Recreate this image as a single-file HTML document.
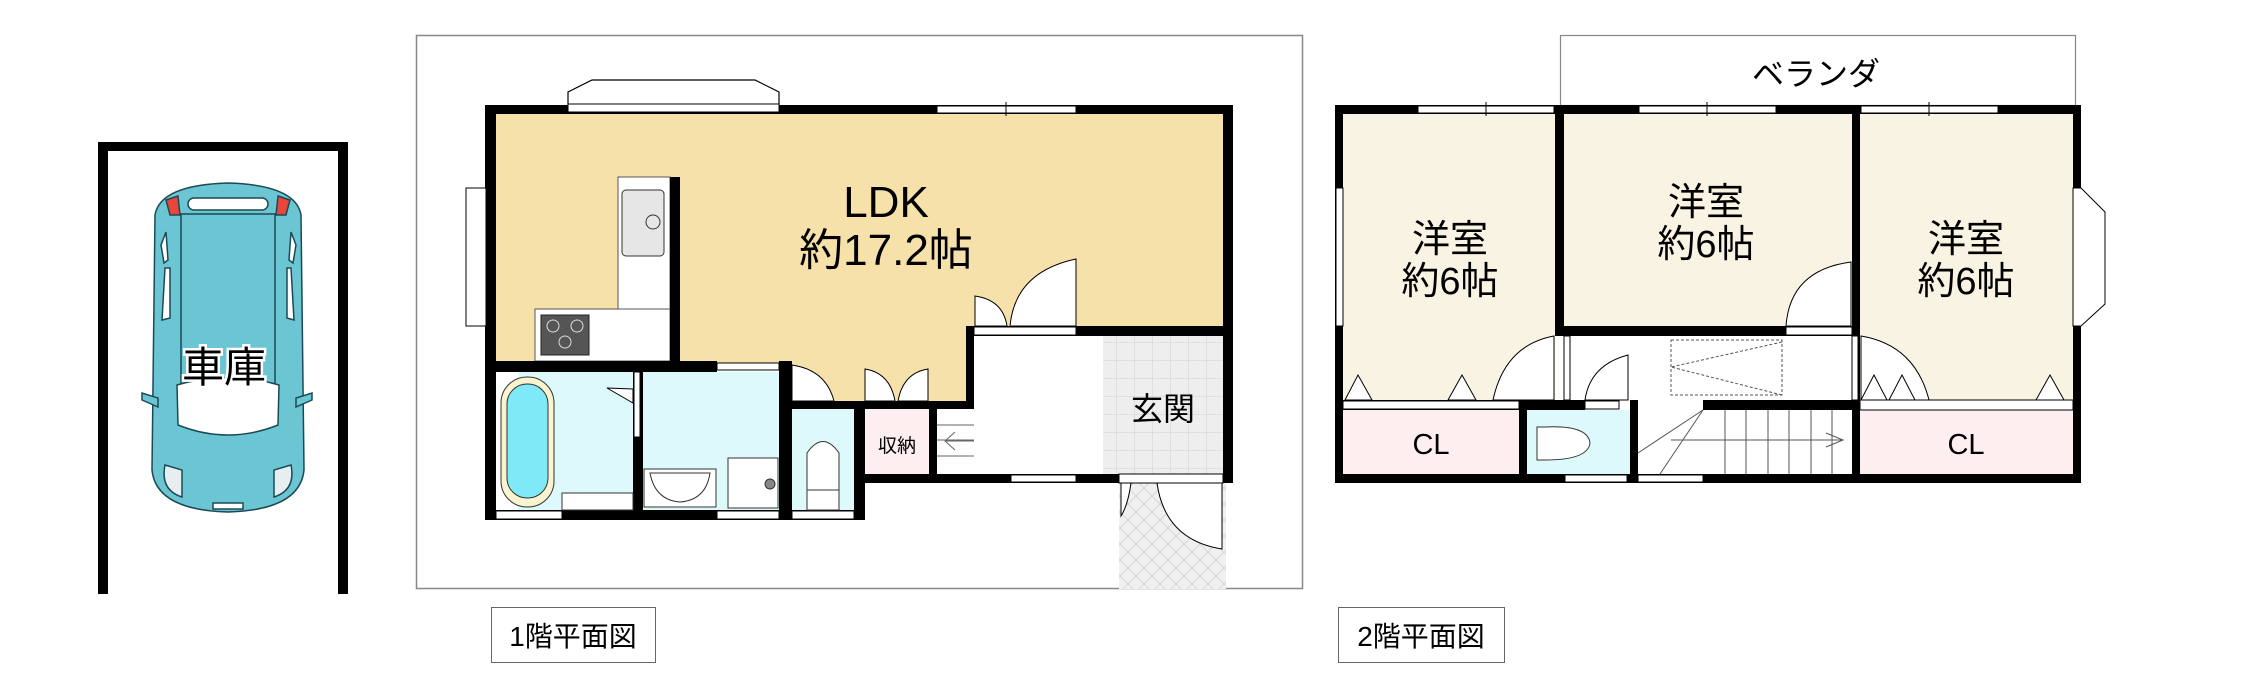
<!DOCTYPE html>
<html><head><meta charset="utf-8"><style>
html,body{margin:0;padding:0;background:#fff;}
svg{display:block;}
text{font-family:"Liberation Sans","Noto Sans CJK JP",sans-serif;fill:#000;}
</style></head><body>
<svg width="2258" height="695" viewBox="0 0 2258 695" xmlns="http://www.w3.org/2000/svg">
<defs>
<pattern id="tile" width="16" height="16" patternUnits="userSpaceOnUse"><rect width="16" height="16" fill="#f0f0f0"/><path d="M0 0L16 16M16 0L0 16" stroke="#d6d6d6" stroke-width="1"/></pattern>
<pattern id="grid" width="18" height="18" patternUnits="userSpaceOnUse"><rect width="18" height="18" fill="#eeeeee"/><path d="M0 0H18M0 0V18" stroke="#d0d0d0" stroke-width="1"/></pattern>
</defs>

<!-- Garage -->
<rect x="98" y="142" width="250" height="9" fill="#000"/>
<rect x="98" y="142" width="10" height="452" fill="#000"/>
<rect x="338" y="142" width="10" height="452" fill="#000"/>
<!-- car -->
<g stroke="#1a4a55" stroke-width="1.5">
<path d="M155 215 Q160 185 228 183 Q296 185 301 215 L304 470 Q300 510 228 512 Q156 510 152 470 Z" fill="#6cc5d3"/>
<rect x="181" y="214" width="94" height="180" fill="#6cc5d3"/>
<path d="M177 385 Q228 370 279 385 L278 425 Q228 445 178 425 Z" fill="#fff"/>
<rect x="188" y="198" width="80" height="12" rx="6" fill="#fff"/>
<path d="M166 200 L178 196 L180 215 L170 215 Z" fill="#e8463a"/>
<path d="M290 200 L278 196 L276 215 L286 215 Z" fill="#e8463a"/>
<path d="M166 232 L161 245 L164 263 L168 260 Z" fill="#fff"/>
<path d="M165 268 L162 320 L170 318 L170 268 Z" fill="#fff"/>
<path d="M291 232 L296 245 L293 263 L289 260 Z" fill="#fff"/>
<path d="M291 268 L294 320 L287 318 L287 268 Z" fill="#fff"/>
<path d="M165 465 Q160 490 182 497 L182 470 Z" fill="#e6eef0"/>
<path d="M291 465 Q296 490 274 497 L274 470 Z" fill="#e6eef0"/>
<path d="M142 400 L158 407 L158 398 L142 393 Z" fill="#6cc5d3"/>
<path d="M312 400 L296 407 L296 398 L312 393 Z" fill="#6cc5d3"/>
<rect x="213" y="503" width="30" height="6" fill="#fff"/>
</g>
<text x="224" y="382" font-size="42" text-anchor="middle" stroke="#fff" stroke-width="5" paint-order="stroke">車庫</text>

<!-- 1F site outline -->
<rect x="416.5" y="35.5" width="886" height="553" fill="none" stroke="#888" stroke-width="1.5"/>

<!-- LDK fill -->
<rect x="496" y="114" width="727" height="247" fill="#f6e1ab"/>
<rect x="680" y="330" width="286" height="40" fill="#f6e1ab"/>
<rect x="792" y="361" width="174" height="40" fill="#f6e1ab"/>
<!-- kitchen -->
<rect x="618" y="177" width="52" height="184" fill="#fff" stroke="#555" stroke-width="1"/>
<rect x="535" y="309" width="135" height="52" fill="#fff" stroke="#555" stroke-width="1"/>
<rect x="619" y="310" width="50" height="50" fill="#fff"/>
<rect x="670" y="177" width="10" height="188" fill="#000"/>
<rect x="622" y="190" width="42" height="66" rx="4" fill="#e6e6e6" stroke="#333"/>
<circle cx="653" cy="222" r="7" fill="#e6e6e6" stroke="#333"/>
<rect x="541" y="315" width="48" height="40" fill="#555" stroke="#222"/>
<circle cx="553" cy="326" r="6" fill="none" stroke="#ddd"/><circle cx="577" cy="326" r="6" fill="none" stroke="#ddd"/><circle cx="565" cy="342" r="6" fill="none" stroke="#ddd"/>

<!-- 1F walls -->
<rect x="485" y="105" width="748" height="9" fill="#000"/>
<rect x="485" y="105" width="11" height="415" fill="#000"/>
<rect x="1223" y="105" width="10" height="378" fill="#000"/>
<rect x="485" y="361" width="232" height="11" fill="#000"/>
<rect x="966" y="326" width="267" height="10" fill="#000"/>
<rect x="966" y="326" width="8" height="75" fill="#000"/>
<rect x="779" y="361" width="13" height="159" fill="#000"/>
<rect x="633" y="372" width="10" height="138" fill="#000"/>
<rect x="792" y="401" width="219" height="8" fill="#000"/>
<rect x="854" y="401" width="11" height="119" fill="#000"/>
<rect x="929" y="409" width="8" height="65" fill="#000"/>
<rect x="865" y="474" width="368" height="9" fill="#000"/>
<rect x="485" y="510" width="377" height="10" fill="#000"/>
<!-- windows 1F -->
<path d="M568 105 L568 92 L592 80 L755 80 L779 92 L779 105 Z" fill="#fff" stroke="#000" stroke-width="1.2"/>
<rect x="568" y="104" width="211" height="8" fill="#fff" stroke="#000" stroke-width="1"/>
<rect x="937" y="106" width="139" height="7" fill="#fff" stroke="#000"/><line x1="1006" y1="102" x2="1006" y2="116" stroke="#000"/>
<rect x="466" y="188" width="20" height="138" fill="#fff" stroke="#000"/>
<rect x="974" y="327" width="102" height="8" fill="#fff" stroke="#000"/>
<rect x="717" y="363" width="62" height="7" fill="#fff" stroke="#000"/>
<!-- rooms -->
<rect x="496" y="372" width="137" height="138" fill="#ddf9fb"/>
<rect x="496" y="372" width="22" height="138" fill="#fff"/>
<rect x="501" y="377" width="53" height="130" rx="26" fill="#f9f3d0" stroke="#333"/>
<rect x="507" y="384" width="41" height="114" rx="20" fill="#7fe9f7" stroke="#333"/>
<rect x="562" y="493" width="71" height="17" fill="#fff" stroke="#333"/>
<path d="M633 389 L607 388 L633 403 Z" fill="#fff" stroke="#000"/>
<rect x="634" y="372" width="6" height="65" fill="#fff" stroke="#000"/>
<rect x="643" y="372" width="136" height="138" fill="#ddf9fb"/>
<rect x="644" y="469" width="72" height="38" fill="#fff" stroke="#333"/>
<path d="M650 473 Q655 500 680 502 Q706 500 710 473 Z" fill="#fff" stroke="#333"/>
<rect x="728" y="458" width="50" height="50" fill="#fff" stroke="#333"/>
<circle cx="770" cy="484" r="5" fill="#888" stroke="#333"/>
<rect x="792" y="409" width="62" height="101" fill="#ddf9fb"/>
<path d="M807 492 L807 453 Q823 430 839 453 L839 492 Z" fill="#fff" stroke="#333"/>
<rect x="807" y="490" width="32" height="20" fill="#fff" stroke="#333"/>
<rect x="865" y="409" width="64" height="65" fill="#fdeef0"/>
<text x="897" y="452" font-size="19" text-anchor="middle">収納</text>
<rect x="937" y="409" width="37" height="65" fill="#fff"/>
<g stroke="#666" stroke-width="1"><line x1="937" y1="425" x2="974" y2="425"/><line x1="937" y1="440" x2="974" y2="440"/><line x1="937" y1="456" x2="974" y2="456"/><line x1="945" y1="441" x2="974" y2="441"/><path d="M955 432 L945 441 L955 450" fill="none"/></g>
<rect x="974" y="336" width="129" height="138" fill="#fff"/>
<rect x="1103" y="336" width="120" height="138" fill="url(#grid)"/>
<text x="1163" y="420" font-size="32" text-anchor="middle">玄関</text>
<rect x="1119" y="483" width="107" height="106" fill="url(#tile)"/>
<rect x="1119" y="474" width="104" height="9" fill="#fff" stroke="#000"/>
<rect x="1011" y="475" width="65" height="7" fill="#fff" stroke="#000"/>
<rect x="496" y="511" width="66" height="8" fill="#fff" stroke="#000"/>
<rect x="717" y="511" width="62" height="8" fill="#fff" stroke="#000"/>
<rect x="792" y="511" width="62" height="8" fill="#fff" stroke="#000"/>
<!-- doors 1F -->
<g fill="#fff" stroke="#000" stroke-width="1">
<path d="M975 296 L975 326 L1007 326 Q1003 300 975 296 Z"/>
<path d="M1076 259 L1076 326 L1010 326 Q1015 272 1076 259 Z"/>
<path d="M792 365 L792 401 L834 401 Q826 370 792 365 Z"/>
<path d="M865 369 L865 401 L895 401 Q890 373 865 369 Z"/>
<path d="M928 369 L928 401 L898 401 Q903 373 928 369 Z"/>
<path d="M1222 483 L1222 549 Q1165 540 1157 483 Z"/>
<path d="M1121 483 L1121 516 Q1128 505 1131 483 Z"/>
</g>
<text x="886" y="217" font-size="44" text-anchor="middle">LDK</text>
<text x="886" y="265" font-size="44" text-anchor="middle">約17.2帖</text>

<rect x="491.5" y="607.5" width="164" height="55" fill="#fff" stroke="#666"/>
<text x="573" y="646" font-size="28" text-anchor="middle">1階平面図</text>

<!-- 2F -->
<rect x="1560.5" y="35.5" width="515" height="70" fill="#fff" stroke="#888" stroke-width="1.2"/>
<text x="1816" y="85" font-size="32" text-anchor="middle">ベランダ</text>
<rect x="1343" y="114" width="212" height="287" fill="#f8f3e2"/>
<rect x="1564" y="114" width="288" height="212" fill="#f8f3e2"/>
<rect x="1860" y="114" width="213" height="287" fill="#f8f3e2"/>
<rect x="1343" y="410" width="176" height="64" fill="#fdeff0"/>
<rect x="1527" y="410" width="103" height="64" fill="#ddf9fb"/>
<rect x="1860" y="410" width="213" height="64" fill="#fdeff0"/>
<!-- 2F walls -->
<rect x="1335" y="105" width="745" height="9" fill="#000"/>
<rect x="1335" y="105" width="8" height="378" fill="#000"/>
<rect x="2073" y="105" width="8" height="378" fill="#000"/>
<rect x="1335" y="474" width="745" height="9" fill="#000"/>
<rect x="1555" y="105" width="9" height="221" fill="#000"/>
<rect x="1852" y="105" width="8" height="378" fill="#000"/>
<rect x="1555" y="326" width="297" height="10" fill="#000"/>
<rect x="1343" y="400" width="242" height="10" fill="#000"/>
<rect x="1519" y="400" width="8" height="83" fill="#000"/>
<rect x="1630" y="400" width="8" height="83" fill="#000"/>
<rect x="1703" y="400" width="157" height="10" fill="#000"/>
<rect x="1860" y="400" width="213" height="10" fill="#fff" stroke="#000"/>
<!-- stairs 2F -->
<rect x="1703" y="410" width="149" height="64" fill="#fff"/>
<g stroke="#555" stroke-width="1" fill="none">
<line x1="1725" y1="410" x2="1725" y2="474"/><line x1="1746" y1="410" x2="1746" y2="474"/><line x1="1768" y1="410" x2="1768" y2="474"/><line x1="1789" y1="410" x2="1789" y2="474"/><line x1="1811" y1="410" x2="1811" y2="474"/><line x1="1832" y1="410" x2="1832" y2="474"/>
<line x1="1671" y1="440" x2="1843" y2="440"/><path d="M1826 433 L1843 440 L1826 447"/>
<line x1="1638" y1="453" x2="1703" y2="410"/><line x1="1660" y1="474" x2="1703" y2="410"/>
<path d="M1671 340 H1782 V395 H1671 Z" stroke-dasharray="3,2"/><path d="M1782 342 L1671 367 L1782 395" stroke-dasharray="3,2"/>
</g>
<!-- windows 2F -->
<g fill="#fff" stroke="#000" stroke-width="1">
<rect x="1418" y="106" width="136" height="7"/><rect x="1639" y="106" width="137" height="7"/><rect x="1861" y="106" width="137" height="7"/>
<rect x="1336" y="188" width="7" height="138"/>
<path d="M2073 188 L2081 188 L2105 212 L2105 304 L2081 326 L2073 326 Z"/>
<rect x="1786" y="327" width="66" height="8"/>
<rect x="1564" y="336" width="6" height="64"/>
<rect x="1852" y="336" width="6" height="64"/>
<rect x="1585" y="401" width="34" height="8"/>
<rect x="1638" y="475" width="65" height="7"/>
<rect x="1565" y="475" width="62" height="7"/>
<rect x="1343" y="401" width="176" height="8"/>
</g>
<g stroke="#000" stroke-width="1"><line x1="1486" y1="102" x2="1486" y2="116"/><line x1="1707" y1="102" x2="1707" y2="116"/><line x1="1929" y1="102" x2="1929" y2="116"/></g>
<!-- doors 2F -->
<g fill="#fff" stroke="#000" stroke-width="1">
<path d="M1851 262 Q1790 270 1786 326 L1851 326 Z"/>
<path d="M1554 336 Q1505 345 1493 400 L1554 400 Z"/>
<path d="M1628 355 Q1590 365 1585 400 L1628 400 Z"/>
<path d="M1861 336 Q1915 345 1929 400 L1861 400 Z"/>
<path d="M1345 400 L1358 375 L1372 400 Z"/><path d="M1448 400 L1462 375 L1476 400 Z"/>
<path d="M1861 400 L1874 375 L1887 400 Z"/><path d="M1889 400 L1902 375 L1915 400 Z"/><path d="M2036 400 L2050 375 L2064 400 Z"/>
</g>
<!-- toilet 2F -->
<path d="M1537 427 L1545 427 Q1588 425 1590 443 Q1588 460 1545 460 L1537 460 Z" fill="#fff" stroke="#333"/>
<text x="1450" y="252" font-size="38" text-anchor="middle">洋室</text>
<text x="1450" y="294" font-size="38" text-anchor="middle">約6帖</text>
<text x="1706" y="215" font-size="38" text-anchor="middle">洋室</text>
<text x="1706" y="257" font-size="38" text-anchor="middle">約6帖</text>
<text x="1966" y="252" font-size="38" text-anchor="middle">洋室</text>
<text x="1966" y="294" font-size="38" text-anchor="middle">約6帖</text>
<text x="1431" y="454" font-size="29" text-anchor="middle">CL</text>
<text x="1966" y="454" font-size="29" text-anchor="middle">CL</text>

<rect x="1338.5" y="607.5" width="166" height="55" fill="#fff" stroke="#666"/>
<text x="1421" y="646" font-size="28" text-anchor="middle">2階平面図</text>
</svg>
</body></html>
